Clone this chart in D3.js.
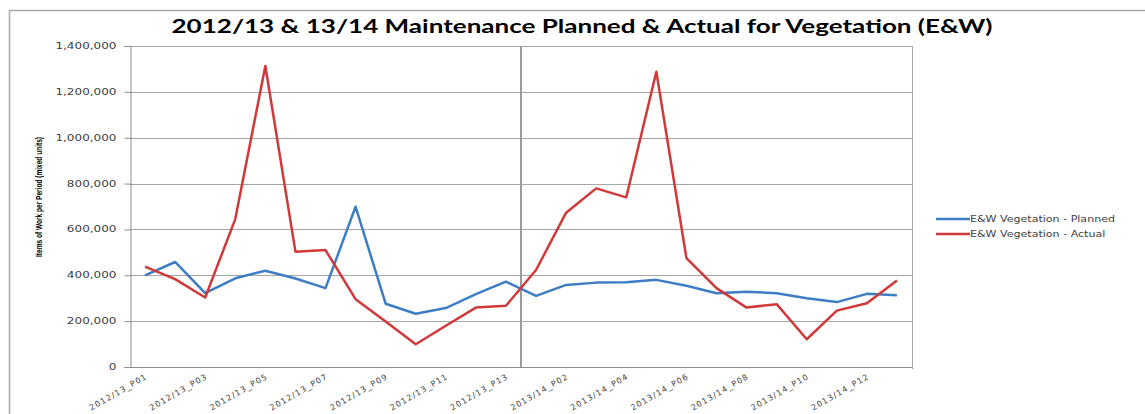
<!DOCTYPE html>
<html>
<head>
<meta charset="utf-8">
<script src="https://cdn.jsdelivr.net/npm/d3@7"></script>
<style>
  body { margin: 0; background: #fff; }
  svg { display: block; }
</style>
</head>
<body>
<script>
// periods
const periods = [
  "2012/13_P01", "2012/13_P02", "2012/13_P03", "2012/13_P04", "2012/13_P05",
  "2012/13_P06", "2012/13_P07", "2012/13_P08", "2012/13_P09", "2012/13_P10",
  "2012/13_P11", "2012/13_P12", "2012/13_P13",
  "2013/14_P01", "2013/14_P02", "2013/14_P03", "2013/14_P04", "2013/14_P05",
  "2013/14_P06", "2013/14_P07", "2013/14_P08", "2013/14_P09", "2013/14_P10",
  "2013/14_P11", "2013/14_P12", "2013/14_P13"
];

// E&W Vegetation - Planned
const planned = [
  400000, 458000, 322000, 387000, 420000, 386000, 344000, 699000, 276000, 232000,
  257000, 318000, 372000,
  310000, 358000, 368000, 370000, 380000, 354000, 322000, 328000, 322000, 300000,
  283000, 319000, 313000
];

// E&W Vegetation - Actual
const actual = [
  438000, 383000, 303000, 645000, 1313000, 503000, 510000, 296000, 198000, 99000,
  180000, 259000, 267000,
  423000, 673000, 779000, 740000, 1288000, 475000, 344000, 259000, 274000, 121000,
  246000, 278000, 377000
];

const yTicks = [0, 200000, 400000, 600000, 800000, 1000000, 1200000, 1400000];

const width = 1145;
const height = 414;
const plot = { left: 130, right: 912, top: 46, bottom: 367 };

const svg = d3.select("body").append("svg")
  .attr("width", width)
  .attr("height", height);

// chart border (runs off the right/bottom edge like the screenshot)
svg.append("rect")
  .attr("x", 9.5)
  .attr("y", 10.5)
  .attr("width", width + 10)
  .attr("height", height + 10)
  .attr("fill", "none")
  .attr("stroke", "#a6a6a6")
  .attr("stroke-width", 1.5);

const x = d3.scaleBand()
  .domain(periods)
  .range([plot.left, plot.right])
  .padding(0);

const y = d3.scaleLinear()
  .domain([0, 1400000])
  .range([plot.bottom, plot.top]);

const cx = d => x(d) + x.bandwidth() / 2;

// stretch text horizontally a bit, the screenshot is wide
function stretch(sel, k) {
  sel.each(function () {
    const w = this.getComputedTextLength();
    d3.select(this)
      .attr("textLength", w * k)
      .attr("lengthAdjust", "spacingAndGlyphs");
  });
}

// gridlines
svg.append("g")
  .selectAll("line")
  .data(yTicks.slice(1))
  .join("line")
  .attr("x1", plot.left)
  .attr("x2", plot.right)
  .attr("y1", d => Math.round(y(d)) + 0.5)
  .attr("y2", d => Math.round(y(d)) + 0.5)
  .attr("stroke", "#a6a6a6")
  .attr("stroke-width", 1);

// right border of plot
svg.append("line")
  .attr("x1", plot.right + 0.5)
  .attr("x2", plot.right + 0.5)
  .attr("y1", plot.top)
  .attr("y2", plot.bottom + 2)
  .attr("stroke", "#a6a6a6");

// year separator
svg.append("line")
  .attr("x1", x("2013/14_P01"))
  .attr("x2", x("2013/14_P01"))
  .attr("y1", plot.top)
  .attr("y2", plot.bottom)
  .attr("stroke", "#9a9a9a")
  .attr("stroke-width", 2);

// y axis
const yAxis = svg.append("g")
  .attr("transform", `translate(${plot.left + 0.5},0)`)
  .call(d3.axisLeft(y)
    .tickValues(yTicks)
    .tickFormat(d3.format(","))
    .tickSize(6)
    .tickPadding(8));

yAxis.select(".domain").attr("stroke", "#8c8c8c");
yAxis.selectAll(".tick line").attr("stroke", "#8c8c8c");
yAxis.selectAll("text")
  .attr("font-family", "DejaVu Sans")
  .attr("font-size", 8)
  .attr("fill", "#404040");
stretch(yAxis.selectAll("text"), 1.5);

// x axis line
svg.append("line")
  .attr("x1", plot.left)
  .attr("x2", plot.right)
  .attr("y1", plot.bottom + 0.5)
  .attr("y2", plot.bottom + 0.5)
  .attr("stroke", "#8c8c8c");

// x labels, every other period
svg.append("g")
  .selectAll("g")
  .data(periods.filter((d, i) => i % 2 === 0))
  .join("g")
  .attr("transform", d => `translate(${cx(d) + 3},${plot.bottom + 11})`)
  .append("text")
  .attr("transform", "rotate(-30)")
  .attr("text-anchor", "end")
  .attr("font-family", "DejaVu Sans")
  .attr("font-size", 8)
  .attr("letter-spacing", 1.2)
  .attr("fill", "#404040")
  .text(d => d);

// lines
const line = d3.line()
  .x((d, i) => cx(periods[i]))
  .y(d => y(d));

svg.append("path")
  .datum(planned)
  .attr("fill", "none")
  .attr("stroke", "#3c7dc4")
  .attr("stroke-width", 2.5)
  .attr("stroke-linejoin", "round")
  .attr("d", line);

svg.append("path")
  .datum(actual)
  .attr("fill", "none")
  .attr("stroke", "#d0393a")
  .attr("stroke-width", 2.5)
  .attr("stroke-linejoin", "round")
  .attr("d", line);

// title
svg.append("text")
  .attr("x", 582)
  .attr("y", 33)
  .attr("text-anchor", "middle")
  .attr("font-family", "Lato")
  .attr("font-weight", "bold")
  .attr("font-size", 18)
  .attr("fill", "#000")
  .attr("textLength", 821)
  .attr("lengthAdjust", "spacingAndGlyphs")
  .text("2012/13 & 13/14 Maintenance Planned & Actual for Vegetation (E&W)");

// y axis title
svg.append("text")
  .attr("transform", `translate(42,197) rotate(-90)`)
  .attr("text-anchor", "middle")
  .attr("font-family", "Liberation Sans Narrow, Liberation Sans")
  .attr("font-weight", "bold")
  .attr("font-size", 9)
  .attr("fill", "#000")
  .attr("textLength", 120)
  .attr("lengthAdjust", "spacingAndGlyphs")
  .text("Items of Work per Period (mixed units)");

// legend
const legendItems = [
  { name: "E&W Vegetation - Planned", color: "#3c7dc4" },
  { name: "E&W Vegetation - Actual", color: "#d0393a" }
];

const legend = svg.append("g")
  .selectAll("g")
  .data(legendItems)
  .join("g")
  .attr("transform", (d, i) => `translate(936,${219 + i * 15})`);

legend.append("line")
  .attr("x1", 0)
  .attr("x2", 34)
  .attr("stroke", d => d.color)
  .attr("stroke-width", 2.5);

const legendText = legend.append("text")
  .attr("x", 34)
  .attr("dy", "0.35em")
  .attr("font-family", "DejaVu Sans")
  .attr("font-size", 8.5)
  .attr("fill", "#404040")
  .text(d => d.name);
stretch(legendText, 1.3);
</script>
</body>
</html>
